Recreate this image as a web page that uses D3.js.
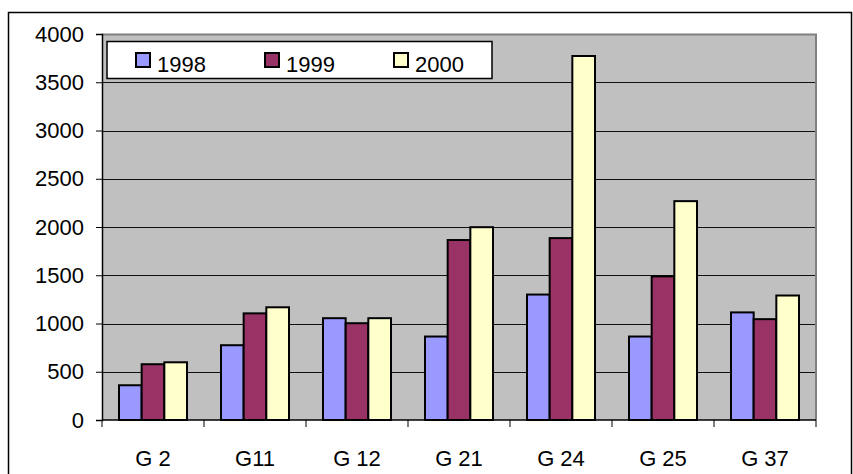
<!DOCTYPE html>
<html>
<head>
<meta charset="utf-8">
<script src="https://cdn.jsdelivr.net/npm/d3@7"></script>
<style>
  body { margin: 0; background: #fff; }
  svg { display: block; font-family: "Liberation Sans", Arial, sans-serif; }
</style>
</head>
<body>
<svg id="chart" width="853" height="474"></svg>
<script>
const categories = ['G 2', 'G11', 'G 12', 'G 21', 'G 24', 'G 25', 'G 37'];
const years = ['1998', '1999', '2000'];
const values1998 = [360, 775, 1055, 865, 1300, 865, 1115];
const values1999 = [578, 1105, 1003, 1865, 1885, 1488, 1045];
const values2000 = [598, 1168, 1055, 1998, 3772, 2268, 1290];
const yTicks = [0, 500, 1000, 1500, 2000, 2500, 3000, 3500, 4000];
const colors = ['#9999FF', '#993366', '#FFFFCC'];

const series = [values1998, values1999, values2000];
const rows = categories.map((c, i) => ({ cat: c, vals: years.map((yr, j) => ({ year: yr, value: series[j][i] })) }));

const svg = d3.select('#chart');
const plotLeft = 102, plotRight = 816, plotTop = 34, plotBottom = 420;

// Outer frame
svg.append('rect')
  .attr('x', 8.5).attr('y', 12.5)
  .attr('width', 843).attr('height', 480)
  .attr('fill', 'none').attr('stroke', '#000').attr('stroke-width', 1.5);

const x = d3.scaleBand().domain(categories).range([plotLeft, plotRight]);
const x1 = d3.scaleBand().domain(years).range([x.bandwidth() / 6, x.bandwidth() * 5 / 6]);
const y = d3.scaleLinear().domain([0, 4000]).range([plotBottom, plotTop]);
const color = d3.scaleOrdinal().domain(years).range(colors);

// Plot area background
svg.append('rect')
  .attr('x', plotLeft).attr('y', plotTop)
  .attr('width', plotRight - plotLeft).attr('height', plotBottom - plotTop)
  .attr('fill', '#C0C0C0');

// Gridlines
svg.append('g')
  .selectAll('line')
  .data(yTicks.filter(d => d > 0))
  .join('line')
  .attr('x1', plotLeft).attr('x2', plotRight)
  .attr('y1', d => Math.round(y(d)) + 0.5).attr('y2', d => Math.round(y(d)) + 0.5)
  .attr('stroke', '#111').attr('stroke-width', 1);

// Gray top/right plot border
svg.append('path')
  .attr('d', `M${plotLeft},${plotTop + 0.5}H${plotRight}V${plotBottom}`)
  .attr('fill', 'none').attr('stroke', '#808080').attr('stroke-width', 2);

// Bars
svg.append('g')
  .selectAll('g')
  .data(rows)
  .join('g')
  .attr('transform', d => `translate(${x(d.cat)},0)`)
  .selectAll('rect')
  .data(d => d.vals)
  .join('rect')
  .attr('x', d => x1(d.year))
  .attr('y', d => y(d.value))
  .attr('width', x1.bandwidth())
  .attr('height', d => y(0) - y(d.value))
  .attr('fill', d => color(d.year))
  .attr('stroke', '#000').attr('stroke-width', 2);

// Y axis
const yAxis = svg.append('g')
  .attr('transform', `translate(${plotLeft},0)`)
  .call(d3.axisLeft(y).tickValues(yTicks).tickSize(6).tickPadding(12).tickFormat(d3.format('d')));
yAxis.select('.domain').attr('stroke-width', 1.5);
yAxis.selectAll('text').attr('font-size', 22).attr('fill', '#000')
  .attr('font-family', '"Liberation Sans", Arial, sans-serif');

// X axis (ticks at band boundaries)
const xAxis = svg.append('g').attr('transform', `translate(0,${plotBottom})`);
xAxis.append('line')
  .attr('x1', plotLeft).attr('x2', plotRight).attr('y1', 0).attr('y2', 0)
  .attr('stroke', '#000').attr('stroke-width', 1.5);
xAxis.selectAll('line.tick')
  .data(categories.map(c => x(c)).concat([plotRight]))
  .join('line')
  .attr('class', 'tick')
  .attr('x1', d => d).attr('x2', d => d)
  .attr('y1', 0).attr('y2', 7)
  .attr('stroke', '#000').attr('stroke-width', 1);
xAxis.selectAll('text')
  .data(categories)
  .join('text')
  .attr('x', d => x(d) + x.bandwidth() / 2)
  .attr('y', 46)
  .attr('text-anchor', 'middle')
  .attr('font-size', 22)
  .text(d => d);

// Legend
const legend = svg.append('g');
legend.append('rect')
  .attr('x', 107).attr('y', 41.5)
  .attr('width', 385).attr('height', 37)
  .attr('fill', '#fff').attr('stroke', '#000').attr('stroke-width', 1.5);
const item = legend.selectAll('g')
  .data(years)
  .join('g')
  .attr('transform', (d, i) => `translate(${136 + i * 129},0)`);
item.append('rect')
  .attr('x', 0).attr('y', 53)
  .attr('width', 14).attr('height', 14)
  .attr('fill', d => color(d)).attr('stroke', '#000').attr('stroke-width', 2);
item.append('text')
  .attr('x', 21).attr('y', 72)
  .attr('font-size', 22)
  .text(d => d);
</script>
</body>
</html>
